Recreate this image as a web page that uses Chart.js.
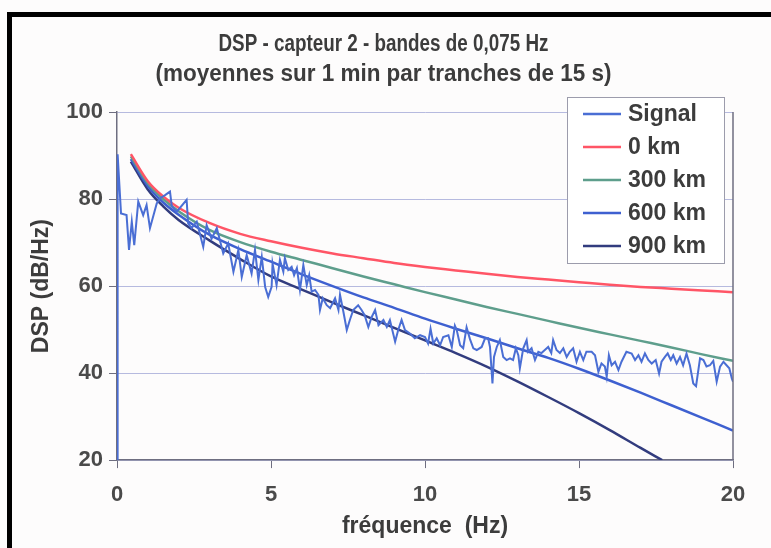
<!DOCTYPE html>
<html>
<head>
<meta charset="utf-8">
<script src="https://cdn.jsdelivr.net/npm/chart.js@4.4.1/dist/chart.umd.min.js"></script>
<style>
  html, body { margin: 0; padding: 0; background: #fdfcfc; }
  #wrap { position: relative; width: 771px; height: 548px; overflow: hidden; }
  #frame {
    position: absolute; left: 7px; top: 12px; width: 900px; height: 700px;
    border-left: 5px solid #000; border-top: 5px solid #000; pointer-events: none;
  }
</style>
</head>
<body>
<div id="wrap">
  <canvas id="chart" width="771" height="548"></canvas>
  <div id="frame"></div>
</div>
<script>
const sigFreq = [0, 0.02, 0.13, 0.31, 0.39, 0.48, 0.56, 0.69, 0.85, 0.96, 1.07, 1.29, 1.40, 1.56, 1.72, 1.78, 1.94,
  2.26, 2.31, 2.42, 2.59, 2.80, 2.91, 3.07, 3.24, 3.45, 3.61, 3.78, 3.94, 4.05, 4.21, 4.37, 4.48, 4.59, 4.70, 4.81, 4.91,
  5.02, 5.05, 5.18, 5.29, 5.40, 5.45, 5.56, 5.67, 5.75, 5.84, 5.94, 6.05, 6.16, 6.24, 6.32, 6.43, 6.54, 6.59, 6.68,
  6.81, 6.92, 7.08, 7.19, 7.24, 7.35, 7.46, 7.56, 7.67, 7.83, 7.94, 8.04, 8.16, 8.27, 8.38, 8.49, 8.65, 8.76, 8.86,
  9.03, 9.13, 9.24, 9.35, 9.51, 9.67, 9.84, 10.0, 10.1, 10.18, 10.27, 10.38, 10.49, 10.59, 10.76, 10.87, 10.97,
  11.03, 11.14, 11.24, 11.35, 11.46, 11.57, 11.68, 11.84, 11.95, 12.05, 12.11, 12.19, 12.24, 12.33, 12.43, 12.54,
  12.65, 12.76, 12.86, 12.95, 13.03, 13.08, 13.19, 13.30, 13.35, 13.46, 13.57, 13.68, 13.78, 13.89, 14.0, 14.1,
  14.16, 14.27, 14.38, 14.49, 14.6, 14.7, 14.81, 14.92, 15.03, 15.14, 15.24, 15.41, 15.52, 15.63, 15.73, 15.84,
  15.9, 15.97, 16.06, 16.17, 16.28, 16.38, 16.54, 16.71, 16.82, 16.93, 17.03, 17.14, 17.25, 17.36, 17.49, 17.6,
  17.68, 17.79, 17.88, 17.98, 18.06, 18.17, 18.28, 18.38, 18.49, 18.6, 18.71, 18.8, 18.93, 19.04, 19.14, 19.25,
  19.36, 19.47, 19.58, 19.69, 19.79, 19.88, 19.96, 20.0];
const sigDsp = [15, 90.3, 76.7, 76.3, 68.3, 74.8, 69.4, 79.4, 76.3, 78.6, 73.3, 79.0, 80.2, 80.9, 81.7, 78.3, 77.1,
  79.8, 74.4, 73.3, 74.8, 69.0, 74.0, 70.9, 73.3, 67.5, 69.8, 63.3, 68.3, 62.1, 67.1, 62.9, 68.3, 61.4, 66.7, 59.8, 57.5,
  59.8, 65.2, 60.2, 66.0, 63.3, 66.4, 63.7, 64.4, 62.5, 64.1, 59.1, 64.8, 60.2, 62.5, 58.7, 59.1, 58.0, 54.5, 57.2,
  55.6, 54.9, 57.2, 54.5, 58.0, 54.1, 49.9, 52.2, 54.5, 55.6, 54.5, 53.3, 50.6, 52.9, 54.5, 51.0, 52.2, 50.6, 52.2,
  47.2, 49.9, 52.2, 49.9, 49.1, 48.0, 48.7, 48.3, 46.8, 50.2, 46.8, 48.0, 46.4, 48.3, 48.7, 46.0, 50.9,
  49.9, 46.4, 45.7, 50.5, 47.8, 45.7, 45.3, 46.0, 48.0, 48.0, 46.0, 37.6, 43.7, 46.0, 47.6, 43.7,
  43.0, 43.4, 43.0, 45.7, 44.1, 41.1, 45.7, 47.6, 44.9, 45.7, 43.0, 44.9, 44.6, 45.3, 46.0, 44.6,
  47.6, 45.3, 44.6, 45.7, 43.7, 44.9, 45.7, 42.6, 44.9, 43.0, 44.9, 44.9, 44.1, 40.3, 42.2, 41.5,
  39.2, 44.1, 41.8, 42.6, 40.7, 42.6, 44.9, 44.5, 43.0, 44.1, 42.6, 44.5, 43.0, 42.2, 43.0, 39.9,
  42.6, 43.7, 44.5, 43.0, 44.1, 42.2, 43.7, 41.8, 44.5, 41.8, 37.6, 37.0, 43.4, 43.0, 41.5, 41.8,
  42.8, 38.0, 41.5, 42.6, 41.8, 41.1, 38.8, 38.0];

// model curves for the distances
const modelFreq = [0.45, 1, 1.5, 2, 3, 4, 5, 6, 7, 8, 9, 10, 11, 12, 13, 14, 15, 16, 17, 18, 19, 20];
const dsp0km = [90.3, 84.1, 80.6, 78.0, 74.5, 72.0, 70.3, 68.8, 67.5, 66.4, 65.3, 64.4, 63.6, 62.8, 62.1, 61.5, 60.9, 60.3, 59.8, 59.4, 59.0, 58.6];
const dsp300km = [89.8, 83.6, 80.0, 77.2, 72.9, 70.1, 67.9, 66.0, 64.1, 62.2, 60.4, 58.6, 56.9, 55.2, 53.6, 52.0, 50.4, 48.9, 47.4, 45.9, 44.3, 42.8];
const dsp600km = [89.2, 83.0, 79.2, 76.4, 71.8, 68.5, 65.6, 62.7, 60.0, 57.4, 55.0, 52.5, 50.2, 48.0, 45.7, 43.5, 41.0, 38.3, 35.5, 32.6, 29.7, 26.8];
const freq900 = [0.45, 1, 1.5, 2, 3, 4, 5, 6, 7, 8, 9, 10, 11, 12, 13, 14, 15, 16, 17, 17.7];
const dsp900km = [88.6, 82.2, 78.3, 75.2, 70.5, 66.2, 62.2, 59.2, 56.2, 53.3, 50.4, 47.5, 44.6, 41.5, 38.1, 34.5, 30.8, 26.9, 22.8, 20.0];

const xTicks = [0, 5, 10, 15, 20];
const yTicks = [20, 40, 60, 80, 100];
const titleLines = ["DSP - capteur 2 - bandes de 0,075 Hz", "(moyennes sur 1 min par tranches de 15 s)"];

const FONT = "'Liberation Sans', Arial, sans-serif";
const TEXT = "#3c3c3c";
const AXIS = "#6e6e80";

const toPoints = (xs, ys) => xs.map((x, i) => ({ x: x, y: ys[i] }));

// title in a narrow bold face (the scan's title is condensed)
const narrowTitle = {
  id: "narrowTitle",
  afterDraw(chart) {
    const { ctx } = chart;
    const widths = [330, 456];
    ctx.save();
    ctx.font = "bold 23px " + FONT;
    ctx.fillStyle = TEXT;
    ctx.textAlign = "center";
    ctx.textBaseline = "middle";
    titleLines.forEach((line, i) => {
      ctx.fillText(line, chart.width / 2 - 2, 45 + i * 30, widths[i]);
    });
    ctx.restore();
  }
};

// legend box drawn inside the plot, top right, plus the right frame line
const boxLegend = {
  id: "boxLegend",
  afterDatasetsDraw(chart) {
    const { ctx, chartArea } = chart;
    ctx.save();
    ctx.strokeStyle = AXIS;
    ctx.lineWidth = 1.5;
    ctx.beginPath();
    ctx.moveTo(chartArea.right, chartArea.top);
    ctx.lineTo(chartArea.right, chartArea.bottom);
    ctx.stroke();

    const w = 157, h = 166;
    const x = chartArea.right - 9 - w;
    const y = chartArea.top - 15;
    ctx.fillStyle = "#ffffff";
    ctx.fillRect(x, y, w, h);
    ctx.strokeStyle = "#9c9cac";
    ctx.lineWidth = 1;
    ctx.strokeRect(x + 0.5, y + 0.5, w, h);

    ctx.font = "bold 23px " + FONT;
    ctx.textBaseline = "middle";
    ctx.textAlign = "left";
    chart.data.datasets.forEach((ds, i) => {
      const ly = y + 17 + i * 33;
      ctx.strokeStyle = ds.borderColor;
      ctx.lineWidth = 2.5;
      ctx.beginPath();
      ctx.moveTo(x + 16, ly);
      ctx.lineTo(x + 54, ly);
      ctx.stroke();
      ctx.fillStyle = TEXT;
      ctx.fillText(ds.label, x + 61, ly + 1);
    });
    ctx.restore();
  }
};

const curve = (label, xs, ys, color) => ({
  label: label,
  data: toPoints(xs, ys),
  borderColor: color,
  borderWidth: 2.5,
  pointRadius: 0,
  cubicInterpolationMode: "monotone",
  fill: false,
});

new Chart(document.getElementById("chart").getContext("2d"), {
  type: "line",
  data: {
    datasets: [
      {
        label: "Signal",
        data: toPoints(sigFreq, sigDsp),
        borderColor: "#4a6ed4",
        borderWidth: 2,
        pointRadius: 0,
        tension: 0,
        fill: false,
      },
      curve("0 km", modelFreq, dsp0km, "#ff5566"),
      curve("300 km", modelFreq, dsp300km, "#5e9e8c"),
      curve("600 km", modelFreq, dsp600km, "#3e60d0"),
      curve("900 km", freq900, dsp900km, "#323c7e"),
    ],
  },
  options: {
    responsive: false,
    animation: false,
    layout: { padding: { left: 28, right: 38, top: 112, bottom: 3 } },
    plugins: {
      legend: { display: false },
      tooltip: { enabled: false },
      title: { display: false },
    },
    scales: {
      x: {
        type: "linear",
        min: 0,
        max: 20,
        afterBuildTicks: (axis) => { axis.ticks = xTicks.map((v) => ({ value: v })); },
        grid: { drawOnChartArea: false, drawTicks: true, tickLength: 8, tickColor: AXIS },
        border: { color: AXIS, width: 1.5 },
        ticks: { color: "#4a4a4a", font: { family: FONT, size: 22, weight: "bold" }, padding: 14 },
        title: {
          display: true,
          text: "fréquence  (Hz)",
          color: TEXT,
          font: { family: FONT, size: 23, weight: "bold", lineHeight: 1.0 },
          padding: { top: -7, bottom: 6.5 },
        },
      },
      y: {
        min: 20,
        max: 100,
        afterBuildTicks: (axis) => { axis.ticks = yTicks.map((v) => ({ value: v })); },
        grid: { color: "#b6badf", lineWidth: 1, drawTicks: true, tickLength: 8, tickColor: AXIS },
        border: { color: AXIS, width: 1.5 },
        ticks: { color: "#4a4a4a", font: { family: FONT, size: 22, weight: "bold" }, padding: 6 },
        title: {
          display: true,
          text: "DSP (dB/Hz)",
          color: TEXT,
          font: { family: FONT, size: 23, weight: "bold" },
          padding: { top: 0, bottom: 4.7 },
        },
      },
    },
  },
  plugins: [boxLegend, narrowTitle],
});
</script>
</body>
</html>
